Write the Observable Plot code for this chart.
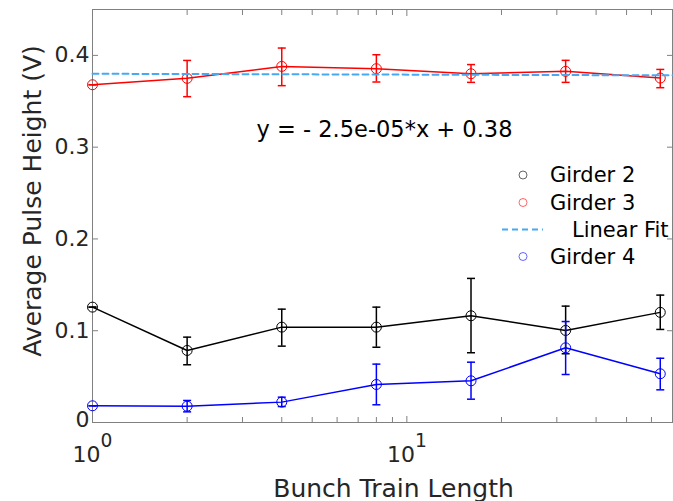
<!DOCTYPE html>
<html><head><meta charset="utf-8">
<script src="https://cdn.jsdelivr.net/npm/d3@7"></script>
<script src="https://cdn.jsdelivr.net/npm/@observablehq/plot@0.6"></script>
<style>
body{margin:0;background:#fff;font-family:"DejaVu Sans",sans-serif}
#chart{width:673px;height:501px}
</style>
</head><body><div id="chart"></div>
<script>
// ---- data ----
const bunchLengths = [1, 2, 4, 8, 16, 32, 64];

const girder2   = [0.1257, 0.0785, 0.1039, 0.1039, 0.1163, 0.1003, 0.1200];
const girder2Lo = [0.1257, 0.0629, 0.0832, 0.0820, 0.0760, 0.0749, 0.1014];
const girder2Hi = [0.1257, 0.0930, 0.1235, 0.1257, 0.1570, 0.1268, 0.1388];

const girder3   = [0.3680, 0.3750, 0.3880, 0.3855, 0.3800, 0.3826, 0.3753];
const girder3Lo = [0.3680, 0.3550, 0.3670, 0.3710, 0.3706, 0.3706, 0.3648];
const girder3Hi = [0.3680, 0.3945, 0.4080, 0.4007, 0.3900, 0.3946, 0.3847];

const girder4   = [0.0182, 0.0178, 0.0222, 0.0414, 0.0454, 0.0814, 0.0531];
const girder4Lo = [0.0182, 0.0116, 0.0174, 0.0193, 0.0254, 0.0523, 0.0356];
const girder4Hi = [0.0182, 0.0240, 0.0276, 0.0636, 0.0657, 0.1100, 0.0700];

const fitSlope = -2.5e-5;
const fitIntercept = 0.38;
const fitRange = [1, 70];
const fitLabel = "y = - 2.5e-05*x + 0.38";

const xMajorTicks = [1, 10];
const xMinorTicks = [2, 3, 4, 5, 6, 7, 8, 9, 20, 30, 40, 50, 60];
const yTicks = [0, 0.1, 0.2, 0.3, 0.4];

const legendLabels = ["Girder 2", "Girder 3", "Linear Fit", "Girder 4"];
const xLabel = "Bunch Train Length";
const yLabel = "Average Pulse Height (V)";

// ---- styles ----
const colors = {g2: "#000000", g3: "#ff0000", fit: "#47a9f2", g4: "#0000ff"};
const legendColors = [colors.g2, colors.g3, colors.fit, colors.g4];
const textColor = "#262626";
const axisColor = "#808080";

function rows(ys, lo, hi) {
  return bunchLengths.map((x, i) => ({x, y: ys[i], lo: lo[i], hi: hi[i]}));
}
const fitData = fitRange.map(x => ({x, y: fitSlope * x + fitIntercept}));

const capSymbol = {
  draw(ctx, size) {
    const w = Math.sqrt(size / Math.PI);
    ctx.moveTo(-w, 0); ctx.lineTo(w, 0);
  }
};

function seriesMarks(data, color) {
  return [
    Plot.line(data, {x: "x", y: "y", stroke: color, strokeWidth: 1.5}),
    Plot.ruleX(data, {x: "x", y1: "lo", y2: "hi", stroke: color, strokeWidth: 1.5}),
    Plot.dot(data, {x: "x", y: "lo", symbol: capSymbol, r: 4, stroke: color, strokeWidth: 1.5}),
    Plot.dot(data, {x: "x", y: "hi", symbol: capSymbol, r: 4, stroke: color, strokeWidth: 1.5}),
    Plot.dot(data, {x: "x", y: "y", r: 5, stroke: color, strokeWidth: 1, fill: "none"})
  ];
}

const chart = Plot.plot({
  width: 673,
  height: 501,
  marginLeft: 92,
  marginRight: 1,
  marginTop: 9,
  marginBottom: 79,
  style: {fontFamily: "DejaVu Sans", color: textColor, background: "#fff"},
  x: {type: "log", domain: [1, 70]},
  y: {domain: [0, 0.45]},
  marks: [
    Plot.frame({stroke: axisColor}),
    // inward ticks
    Plot.axisY(yTicks, {anchor: "left", tickSize: 6, dx: 6, fill: "none", label: null, stroke: axisColor}),
    Plot.axisY(yTicks, {anchor: "right", tickSize: 6, dx: -6, fill: "none", label: null, stroke: axisColor}),
    Plot.axisX(xMajorTicks, {anchor: "bottom", tickSize: 6, dy: -6, fill: "none", label: null, stroke: axisColor}),
    Plot.axisX(xMinorTicks, {anchor: "bottom", tickSize: 5, dy: -5, fill: "none", label: null, stroke: axisColor}),
    Plot.axisX(xMajorTicks, {anchor: "top", tickSize: 6, dy: 6, fill: "none", label: null, stroke: axisColor}),
    Plot.axisX(xMinorTicks, {anchor: "top", tickSize: 5, dy: 5, fill: "none", label: null, stroke: axisColor}),
    // tick labels
    Plot.axisY(yTicks, {anchor: "left", tickSize: 0, tickPadding: 3, fontSize: 22, label: null, fill: textColor,
      tickFormat: d => d === 0 ? "0" : d.toFixed(1)}),
    Plot.axisX(xMajorTicks, {anchor: "bottom", tickSize: 0, tickPadding: 24, fontSize: 22, label: null, fill: textColor,
      tickFormat: d => "10^" + Math.round(Math.log10(d))}),
    // axis titles
    Plot.text([yLabel], {frameAnchor: "left", textAnchor: "middle", lineAnchor: "middle", rotate: -90,
      dx: -60, dy: -15, fontSize: 25, fill: textColor}),
    Plot.text([xLabel], {frameAnchor: "bottom", textAnchor: "middle", lineAnchor: "middle",
      dx: 11, dy: 66, fontSize: 25, fill: textColor}),
    // data
    ...seriesMarks(rows(girder2, girder2Lo, girder2Hi), colors.g2),
    ...seriesMarks(rows(girder3, girder3Lo, girder3Hi), colors.g3),
    Plot.line(fitData, {x: "x", y: "y", stroke: colors.fit, strokeWidth: 2, strokeDasharray: "6,4"}),
    ...seriesMarks(rows(girder4, girder4Lo, girder4Hi), colors.g4),
    // equation
    Plot.text([fitLabel], {frameAnchor: "top", textAnchor: "middle", lineAnchor: "middle",
      dx: 2, dy: 120, fontSize: 22.5, fill: "#000"})
  ]
});

document.getElementById("chart").appendChild(chart);

// superscripts for the log tick labels, and nudge "0"
const svg = d3.select(chart);
svg.selectAll("text").each(function() {
  const t = d3.select(this);
  const s = t.text();
  const m = /^10\^(\d+)$/.exec(s);
  if (m) {
    t.text("10");
    t.append("tspan").attr("dy", "-15px").attr("font-size", "0.85em").text(m[1]);
  } else if (s === "0" && this.closest("[aria-label='y-axis tick label']")) {
    t.attr("dy", "-0.1em");
  }
});

// legend (inside the axes, top right)
const lg = svg.append("g").attr("font-family", "DejaVu Sans").attr("font-size", 21)
  .attr("fill", "#000").attr("text-anchor", "start");
const rowY = [175, 202.5, 229.5, 256.5];
legendLabels.forEach((label, i) => {
  const y = rowY[i];
  if (label === "Linear Fit") {
    lg.append("line").attr("x1", 502).attr("x2", 543).attr("y1", y).attr("y2", y)
      .attr("stroke", legendColors[i]).attr("stroke-width", 2).attr("stroke-dasharray", "6,4");
    lg.append("text").attr("x", 572).attr("y", y).attr("dy", "0.35em").text(label);
  } else {
    lg.append("circle").attr("cx", 523).attr("cy", y).attr("r", 4)
      .attr("fill", "none").attr("stroke", legendColors[i]).attr("stroke-opacity", 0.6);
    lg.append("text").attr("x", 550).attr("y", y).attr("dy", "0.35em").text(label);
  }
});
</script>
</body></html>
